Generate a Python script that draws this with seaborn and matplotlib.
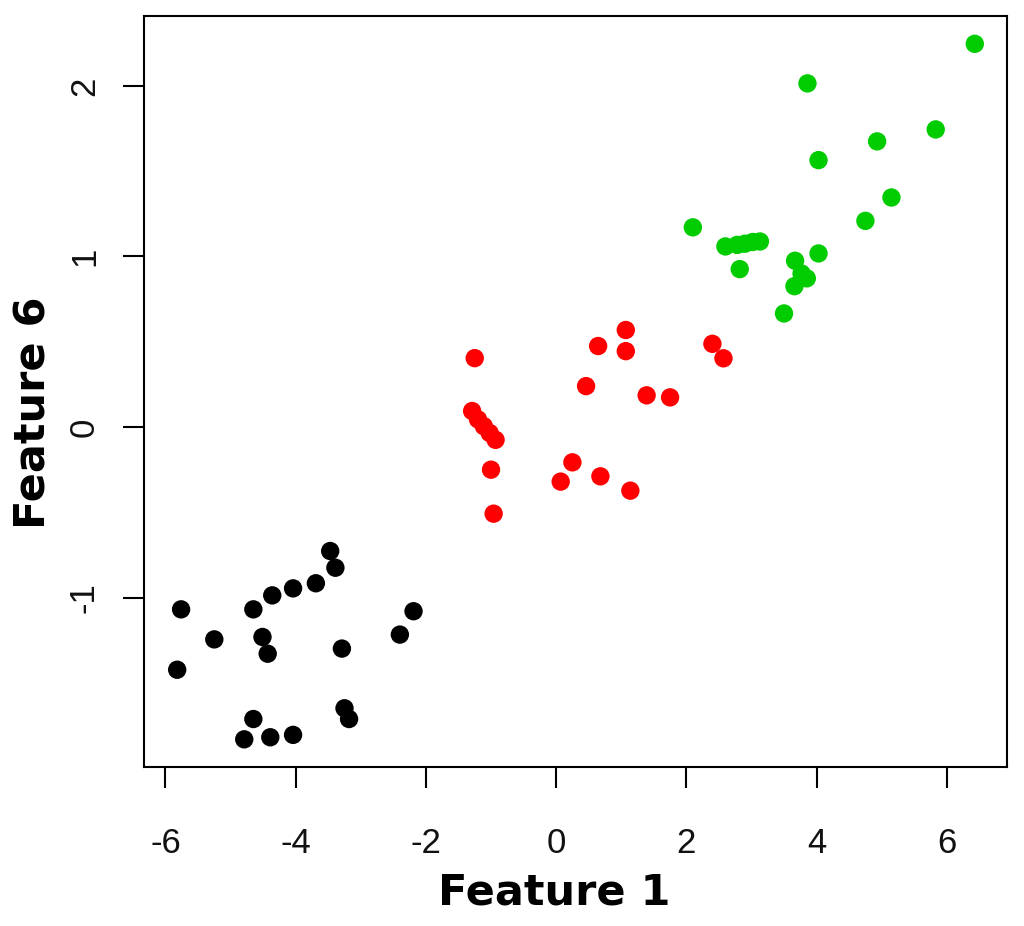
import pandas as pd
import matplotlib
matplotlib.use("Agg")
import matplotlib.pyplot as plt
import seaborn as sns

# values
black_x = [-3.47, -3.39, -3.69, -4.04, -4.36, -4.65, -5.76, -2.19, -2.40, -5.25,
           -4.51, -4.43, -3.29, -5.82, -3.25, -3.18, -4.65, -4.79, -4.39, -4.04]
black_y = [-0.727, -0.825, -0.916, -0.946, -0.987, -1.069, -1.069, -1.080, -1.217, -1.245,
           -1.231, -1.329, -1.299, -1.423, -1.649, -1.712, -1.712, -1.831, -1.819, -1.805]

red_x = [-1.25, -1.29, -1.20, -1.11, -1.02, -0.93, -1.00, -0.96, 1.07, 0.645, 1.07,
         2.40, 2.57, 0.46, 1.39, 1.75, 0.25, 0.07, 0.68, 1.14]
red_y = [0.404, 0.094, 0.045, 0.005, -0.035, -0.075, -0.25, -0.508, 0.569, 0.475, 0.445,
         0.488, 0.403, 0.240, 0.186, 0.174, -0.207, -0.320, -0.289, -0.373]

green_x = [6.43, 3.86, 5.83, 4.93, 4.03, 5.15, 4.75, 2.10, 2.60, 2.78, 2.90, 3.02, 3.13,
           4.03, 2.82, 3.67, 3.77, 3.85, 3.66, 3.50]
green_y = [2.247, 2.015, 1.745, 1.675, 1.565, 1.346, 1.209, 1.171, 1.059, 1.068, 1.075, 1.085, 1.088,
           1.018, 0.926, 0.975, 0.900, 0.872, 0.826, 0.666]

groups = ["1", "2", "3"]
group_colors = ["#000000", "#FF0000", "#00CC00"]

x_ticks = [-6, -4, -2, 0, 2, 4, 6]
x_labels = ["-6", "-4", "-2", "0", "2", "4", "6"]
y_ticks = [-1, 0, 1, 2]
y_labels = ["-1", "0", "1", "2"]

df = pd.concat([
    pd.DataFrame({"f1": black_x, "f6": black_y, "group": groups[0]}),
    pd.DataFrame({"f1": red_x, "f6": red_y, "group": groups[1]}),
    pd.DataFrame({"f1": green_x, "f6": green_y, "group": groups[2]}),
])

sns.set_style("white")
plt.rcParams['font.family'] = ['Liberation Sans', 'DejaVu Sans']
plt.rcParams['axes.unicode_minus'] = False

fig = plt.figure(figsize=(10.24, 9.26), dpi=100)
ax = fig.add_axes([0.1406, 0.1714, 0.8425, 0.8113])

sns.scatterplot(data=df, x="f1", y="f6", hue="group", palette=dict(zip(groups, group_colors)),
                s=175, linewidth=0, legend=False, ax=ax)

ax.set_xlim(-6.33, 6.92)
ax.set_ylim(-1.995, 2.41)
ax.set_xticks(x_ticks)
ax.set_xticklabels(x_labels)
ax.set_yticks(y_ticks)
ax.set_yticklabels(y_labels, rotation=90, va="center")

for sp in ax.spines.values():
    sp.set_visible(True)
    sp.set_color("black")
    sp.set_linewidth(1.5)

ax.tick_params(axis="both", direction="out", length=15, width=1.5, color="black",
               bottom=True, left=True, labelsize=25, labelcolor="#111111")
ax.tick_params(axis="x", pad=28)
ax.tick_params(axis="y", pad=16)

ax.set_xlabel("Feature 1", fontsize=31, fontweight="bold", family="DejaVu Sans", color="black")
ax.set_ylabel("Feature 6", fontsize=31, fontweight="bold", family="DejaVu Sans", color="black")
ax.xaxis.label.set_va("center")
ax.yaxis.label.set_va("center")
ax.xaxis.set_label_coords(0.475, -0.167)
ax.yaxis.set_label_coords(-0.1275, 0.472)

fig.savefig("out.png", dpi=100)
